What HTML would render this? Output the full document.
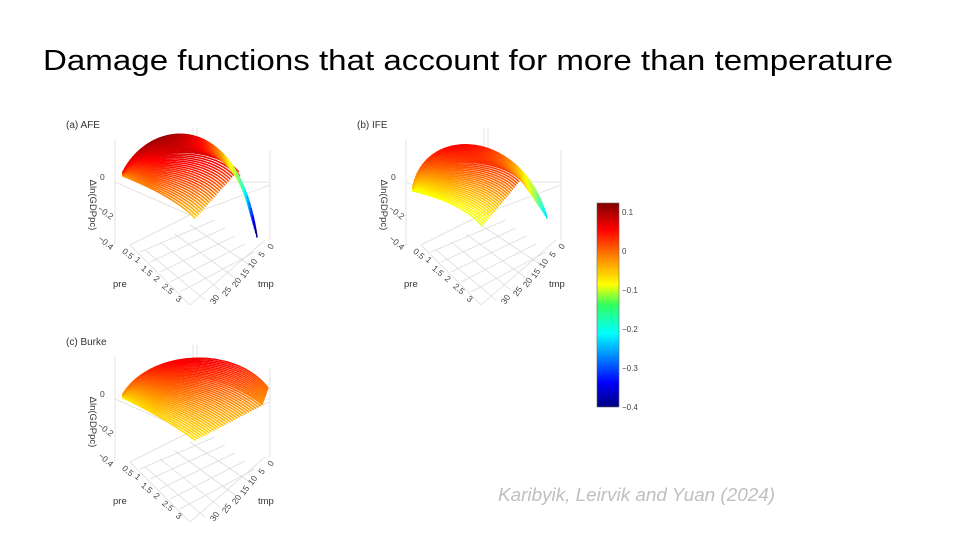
<!DOCTYPE html>
<html><head><meta charset="utf-8"><style>
html,body{margin:0;padding:0;background:#fff}
svg{display:block}
text{font-family:"Liberation Sans",sans-serif}
</style></head><body>
<svg id="s" width="960" height="540" viewBox="0 0 960 540" xmlns="http://www.w3.org/2000/svg">
<defs>
<linearGradient id="cb" x1="0" y1="1" x2="0" y2="0">
<stop offset="0" stop-color="#00007f"/><stop offset="0.12" stop-color="#0000ff"/>
<stop offset="0.36" stop-color="#00ffff"/><stop offset="0.5" stop-color="#30ff60"/>
<stop offset="0.6" stop-color="#ffff00"/><stop offset="0.74" stop-color="#ff8000"/>
<stop offset="0.87" stop-color="#ff0000"/><stop offset="1" stop-color="#7f0000"/>
</linearGradient>
</defs>
<text x="43" y="70" font-size="29" textLength="850" lengthAdjust="spacingAndGlyphs" fill="#000">Damage functions that account for more than temperature</text>
<text x="498" y="501" font-size="18" font-style="italic" fill="#bfbfbf" textLength="277" lengthAdjust="spacingAndGlyphs">Karibyik, Leirvik and Yuan (2024)</text>
<rect x="597" y="203" width="22" height="204" fill="url(#cb)" stroke="#666" stroke-width="0.6"/>
<g font-size="8" fill="#444">
<text x="622" y="215">0.1</text><text x="622" y="254">0</text><text x="622" y="293">−0.1</text>
<text x="622" y="332">−0.2</text><text x="622" y="371">−0.3</text><text x="622" y="410">−0.4</text>
</g>
<g id="g"></g>
</svg>
<script>
var g=document.getElementById('g'),NS='http://www.w3.org/2000/svg';
function el(t,a,txt){var e=document.createElementNS(NS,t);for(var k in a)e.setAttribute(k,a[k]);if(txt!=null)e.textContent=txt;g.appendChild(e);return e;}
function jet(v){var r=Math.min(4*v-1.5,-4*v+4.5),gg=Math.min(4*v-0.5,-4*v+3.5),b=Math.min(4*v+0.5,-4*v+2.5);
function c(x){return Math.round(255*Math.max(0,Math.min(1,x)));}return 'rgb('+c(r)+','+c(gg)+','+c(b)+')';}
function col(z){return jet((z+0.4)/0.52);}
function lerp(a,b,t){return a+(b-a)*t;}
function lp(p,q,t){return [lerp(p[0],q[0],t),lerp(p[1],q[1],t)];}
function axes(dx,dy,label){
 var L='#dcdcdc';
 var lines=[[130,245,190,215],[190,215,270,185],[130,245,190,305],[190,305,265,240],
 [193,128,193,215],[197,128,197,215],[115,140,115,245],[270,150,270,240],[180,182,270,182],[115,182,190,215],
 [140,252,215,220],[150,262,225,228],[160,272,235,236],[170,282,245,244],[180,292,255,252],
 [205,300,145,250],[220,290,160,242],[235,278,175,234],[250,265,190,225]];
 lines.forEach(function(l){el('line',{x1:l[0]+dx,y1:l[1]+dy,x2:l[2]+dx,y2:l[3]+dy,stroke:L,'stroke-width':0.8});});
 el('text',{x:66+dx,y:128+dy,'font-size':10,fill:'#333'},label);
 el('text',{x:100+dx,y:180+dy,'font-size':8.5,fill:'#444'},'0');
 function rt(x,y,s,a,anc){el('text',{x:x+dx,y:y+dy,'font-size':8.5,fill:'#444','text-anchor':anc||'middle',transform:'rotate('+a+' '+(x+dx)+' '+(y+dy)+')'},s);}
 rt(104,215,'−0.2',35);rt(104,245,'−0.4',40);
 el('text',{x:0,y:0,'font-size':9.5,fill:'#333',transform:'translate('+(90+dx)+' '+(205+dy)+') rotate(90)','text-anchor':'middle'},'Δln(GDPpc)');
 var pl=[['0.5',126,256],['1',136,262],['1.5',145,273],['2',155,281],['2.5',166,291],['3',177,301]];
 pl.forEach(function(p){rt(p[1],p[2],p[0],40);});
 el('text',{x:113+dx,y:287+dy,'font-size':9.5,fill:'#333'},'pre');
 var tl=[['0',273,248],['5',264,256],['10',255,265],['15',247,275],['20',239,284],['25',229,293],['30',217,301]];
 tl.forEach(function(p){rt(p[1],p[2],p[0],-55);});
 el('text',{x:258+dx,y:287+dy,'font-size':9.5,fill:'#333'},'tmp');
}
function surf(p){
 var N=42,M=50;
 for(var i=0;i<N;i++){var k=i/(N-1);
  var S=lp(p.S0,p.S1,k);
  var E=k<p.kb?lp(p.E0,p.Eb,k/p.kb):lp(p.Eb,p.E1,(k-p.kb)/(1-p.kb));
  var A=lp(p.A0,p.A1,k),B=lp(p.B0,p.B1,k);
  var zS=lerp(p.zS0,p.zS1,k),zA=lerp(p.zA0,p.zA1,k);
  var zE=k<p.kb?lerp(p.zE0,p.zEb,k/p.kb):lerp(p.zEb,p.zE1,(k-p.kb)/(1-p.kb));
  var prev=null;
  for(var j=0;j<=M;j++){var s=j/M,u=1-s,a=u*u*u,b=3*u*u*s,c=3*u*s*s,d=s*s*s;
   var pt=[a*S[0]+b*A[0]+c*B[0]+d*E[0],a*S[1]+b*A[1]+c*B[1]+d*E[1]],z=a*zS+(b+c)*zA+d*zE;
   if(prev)el('line',{x1:prev[0],y1:prev[1],x2:pt[0],y2:pt[1],stroke:col(z),'stroke-width':1.5,'stroke-linecap':'round'});
   prev=pt;}
 }
}
axes(0,0,'(a) AFE');axes(291,0,'(b) IFE');axes(0,217,'(c) Burke');
surf({S0:[123,176],S1:[123,172],E0:[195,218],Eb:[238,170],E1:[257,237],kb:0.6,
 A0:[145,185],A1:[150,118],B0:[175,198],B1:[238,108],
 zS0:-0.03,zS1:0.04,zA0:0.0,zA1:0.16,zE0:-0.05,zEb:0.04,zE1:-0.4});
surf({S0:[413,191],S1:[413,187],E0:[482,226],Eb:[521,179],E1:[547,218],kb:0.62,
 A0:[430,195],A1:[425,125],B0:[465,205],B1:[522,128],
 zS0:-0.09,zS1:-0.05,zA0:-0.07,zA1:0.11,zE0:-0.09,zEb:0.02,zE1:-0.22});
surf({S0:[123,398],S1:[123,394],E0:[195,440],Eb:[262,405],E1:[268,388],kb:0.7,
 A0:[145,408],A1:[150,350],B0:[170,422],B1:[235,345],
 zS0:-0.07,zS1:-0.03,zA0:-0.05,zA1:0.09,zE0:-0.06,zEb:-0.02,zE1:0.0});
</script>
</body></html>
